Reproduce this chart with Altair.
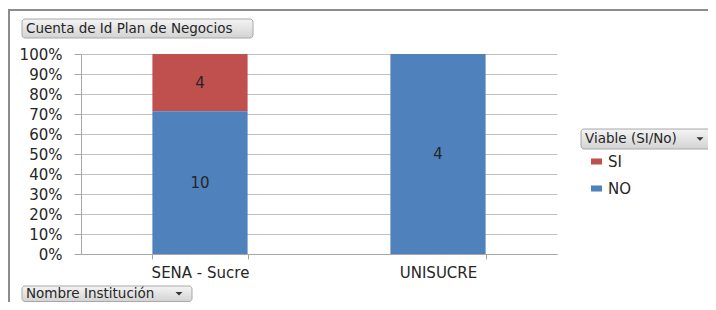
import altair as alt
import pandas as pd

# ---- data ----
institutions = ["SENA - Sucre", "SENA - Sucre", "UNISUCRE"]
viable = ["SI", "NO", "NO"]
counts = [4, 10, 4]
series_order = ["SI", "NO"]
series_colors = ["#C0504D", "#4F81BD"]
inst_order = ["SENA - Sucre", "UNISUCRE"]
y_ticks = [0, 0.1, 0.2, 0.3, 0.4, 0.5, 0.6, 0.7, 0.8, 0.9, 1.0]

df = pd.DataFrame({"inst": institutions, "viable": viable, "count": counts})

FONT = "DejaVu Sans"
TXT = "#262626"
W, H = 476, 200

base = (
    alt.Chart(df)
    .transform_calculate(ord="datum.viable === 'NO' ? 0 : 1")
    .transform_stack(
        stack="count",
        groupby=["inst"],
        as_=["y0", "y1"],
        offset="normalize",
        sort=[alt.SortField("ord", order="ascending")],
    )
    .transform_calculate(ymid="(datum.y0 + datum.y1) / 2")
)

yscale = alt.Scale(domain=[0, 1], nice=False, zero=True)
xscale = alt.Scale(domain=inst_order, paddingInner=0.6, paddingOuter=0.3)

xaxis = alt.Axis(
    title=None, labelAngle=0, labelFont=FONT, labelFontSize=15, labelColor=TXT,
    tickBand="extent", tickSize=5, labelPadding=6,
    domainColor="#A6A6A6", tickColor="#A6A6A6", grid=False,
)
yaxis = alt.Axis(
    title=None, values=y_ticks, format=".0%", labelFont=FONT, labelFontSize=15,
    labelColor=TXT, tickSize=7, labelPadding=12, labelOverlap=False,
    labelFlush=False, grid=True,
    domainColor="#A6A6A6", tickColor="#A6A6A6", gridColor="#C0C0C0",
)

bars = base.mark_bar().encode(
    x=alt.X("inst:N", scale=xscale, axis=xaxis),
    y=alt.Y("y0:Q", scale=yscale, axis=yaxis),
    y2="y1:Q",
    color=alt.Color(
        "viable:N",
        scale=alt.Scale(domain=series_order, range=series_colors),
        legend=alt.Legend(
            title=None, orient="none", legendX=508, legendY=100, padding=0,
            symbolType="M-1,-0.55H1V0.55H-1Z", symbolSize=121, symbolStrokeWidth=0,
            labelFont=FONT, labelFontSize=15, labelColor=TXT, labelOffset=4,
            rowPadding=11,
        ),
    ),
)

labels = base.mark_text(font=FONT, fontSize=15, color=TXT).encode(
    x=alt.X("inst:N", scale=xscale, axis=xaxis),
    y=alt.Y("ymid:Q", scale=yscale, axis=yaxis),
    text="count:Q",
)

one = alt.Data(values=[{"k": 1}])
grad = alt.LinearGradient(
    gradient="linear",
    stops=[alt.GradientStop(offset=0, color="#F4F4F4"), alt.GradientStop(offset=1, color="#D3D3D3")],
    x1=0, x2=0, y1=0, y2=1,
)


def button(label, x0, x1, y0, y1, arrow, fs=13.5):
    layers = [
        alt.Chart(one).mark_rect(fill=grad, stroke="#A8A8A8", strokeWidth=1, cornerRadius=3).encode(
            x=alt.value(x0), x2=alt.value(x1), y=alt.value(y0), y2=alt.value(y1)
        ),
        alt.Chart(one).mark_text(
            text=label, font=FONT, fontSize=fs, color=TXT, align="left", baseline="middle"
        ).encode(x=alt.value(x0 + 4), y=alt.value((y0 + y1) / 2)),
    ]
    if arrow:
        layers.append(
            alt.Chart(one).mark_point(
                shape="M-1,-0.5L1,-0.5L0,0.5Z", filled=True, size=49, color="#333333", opacity=1
            ).encode(x=alt.value(x1 - 13), y=alt.value((y0 + y1) / 2))
        )
    return layers


frame = [
    alt.Chart(one).mark_rule(color="#8C8C8C", strokeWidth=2).encode(
        x=alt.value(-73), x2=alt.value(627), y=alt.value(-44)
    ),
    alt.Chart(one).mark_rule(color="#8C8C8C", strokeWidth=2).encode(
        x=alt.value(-72), y=alt.value(-44), y2=alt.value(248)
    ),
]

layers = (
    frame
    + [bars, labels]
    + button("Cuenta de Id Plan de Negocios", -59, 172, -35, -16, False)
    + button("Nombre Institución", -59, 111, 232, 247.5, True, 13.5)
    + button("Viable (SI/No)", 500, 632, 75, 95, True)
)

chart = (
    alt.layer(*layers)
    .properties(
        width=W,
        height=H,
        autosize=alt.AutoSizeParams(type="none"),
        padding={"left": 73, "top": 46, "right": 151, "bottom": 48},
    )
    .configure_view(stroke=None)
)

chart.save("out.html", embed_options={"renderer": "svg", "actions": False})
